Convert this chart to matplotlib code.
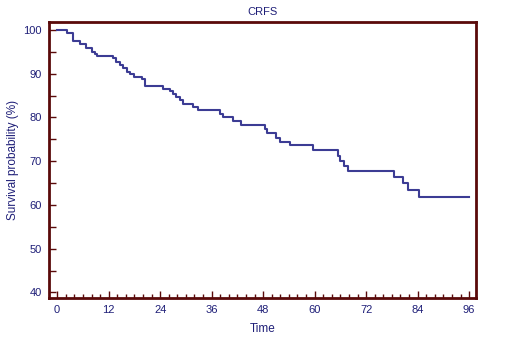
import matplotlib
matplotlib.use("Agg")
import matplotlib.pyplot as plt
from matplotlib.ticker import MultipleLocator

# Kaplan-Meier step curve
times = [0, 2.2, 3.7, 5.4, 6.8, 8.0, 8.8, 9.3, 13.0, 13.6, 14.6, 15.4, 16.2,
         17.0, 17.8, 19.7, 20.4, 20.8, 24.7, 26.3, 27.0, 27.8, 28.6, 29.4,
         31.7, 32.9, 37.9, 38.7, 41.0, 42.8, 48.4, 49.0, 51.1, 51.9, 54.2,
         59.5, 65.5, 66.0, 66.8, 67.8, 78.6, 80.5, 81.8, 84.4, 96.0]
surv = [100, 99.4, 97.6, 96.9, 95.8, 95.0, 94.5, 94.05, 93.5, 92.75, 92.0, 91.2,
        90.5, 89.9, 89.3, 88.9, 87.2, 87.2, 86.6, 86.1, 85.4, 84.7, 84.0, 83.1,
        82.5, 81.7, 80.9, 80.0, 79.3, 78.3, 77.3, 76.4, 75.4, 74.4, 73.7,
        72.5, 71.2, 70.0, 69.0, 67.7, 66.5, 65.0, 63.4, 61.8, 61.8]

x_ticks = [0, 12, 24, 36, 48, 60, 72, 84, 96]
y_ticks = [40, 50, 60, 70, 80, 90, 100]

txt = "#1f1f78"
spine = "#5a0a0a"

plt.rcParams["font.family"] = ["Liberation Sans", "DejaVu Sans"]

fig = plt.figure(figsize=(5.22, 3.57), dpi=100)
ax = fig.add_axes([0.0939, 0.165, 0.818, 0.773])

ax.plot(times, surv, drawstyle="steps-post", color="#3c3c94", lw=1.5)

ax.set_xlim(-1.9, 97.6)
ax.set_ylim(38.7, 101.8)
ax.set_xticks(x_ticks)
ax.set_yticks(y_ticks)
ax.xaxis.set_minor_locator(MultipleLocator(2))
ax.yaxis.set_minor_locator(MultipleLocator(5))

for s in ax.spines.values():
    s.set_color(spine)
    s.set_linewidth(2)

ax.tick_params(which="both", direction="in", color=spine, labelcolor=txt,
               labelsize=8, width=1)
ax.tick_params(which="major", length=5, pad=5)
ax.tick_params(axis="y", which="minor", length=5)
ax.tick_params(axis="x", which="minor", length=3)
ax.tick_params(top=False, right=False)

ax.set_title("CRFS", fontsize=8, color=txt, pad=5)
ax.set_xlabel("Time", fontsize=8.5, color=txt, labelpad=6)
ax.set_ylabel("Survival probability (%)", fontsize=8.5, color=txt, labelpad=3)

fig.savefig("out.png", dpi=100)
